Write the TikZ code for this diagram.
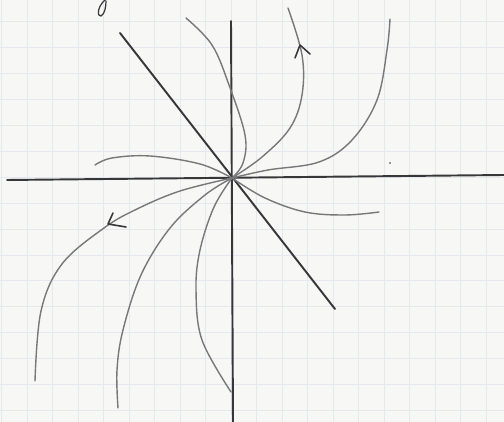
\documentclass[tikz,border=0pt]{standalone}
\usepackage{tikz}
\definecolor{paper}{RGB}{247,247,246}
\definecolor{gridc}{RGB}{229,233,237}
\definecolor{pen}{RGB}{55,55,58}
\definecolor{pencil}{RGB}{120,120,122}
\tikzset{
  axis/.style={pen,line width=1.1pt},
  orbit/.style={pencil,line width=0.8pt},
  barb/.style={pen,line width=0.9pt,line join=round}
}

\begin{document}
\begin{tikzpicture}[x=0.02cm,y=-0.02cm,line cap=round]
\fill[paper] (0,0) rectangle (504,422);
\useasboundingbox (0,0) rectangle (504,422);
% squared paper
\foreach \i in {0,...,19} \draw[gridc,line width=0.5pt] ({1.5+25.5*\i},0)--({1.5+25.5*\i},422);
\foreach \j in {0,...,16} \draw[gridc,line width=0.5pt] (0,{-4+25.9*\j})--(504,{-4+25.9*\j});
% axes and the straight line through the origin
\coordinate (O) at (232,178);
\draw[axis] (7,180)--(504,175);
\draw[axis] (231,21)--(233,422);
\draw[axis] (120,33)--(335,309);
% trajectories
\draw[orbit] plot[smooth,tension=0.6] coordinates {(186,18) (212,45) (229,85) (245,135) (243,163) (O)};
\draw[orbit] plot[smooth,tension=0.6] coordinates {(O) (262,157) (290,128) (302,95) (302,55) (288,8)};
\draw[orbit] plot[smooth,tension=0.6] coordinates {(O) (268,170) (319,162) (352,140) (377,100) (387,50) (390,19)};
\draw[orbit] plot[smooth,tension=0.6] coordinates {(95,165) (112,158) (150,156) (200,164) (O)};
\draw[orbit] plot[smooth,tension=0.6] coordinates {(O) (265,198) (305,212) (345,215) (379,212)};
\draw[orbit] plot[smooth,tension=0.6] coordinates {(O) (180,191) (137,209) (104,228) (62,264) (41,311) (35,381)};
\draw[orbit] plot[smooth,tension=0.6] coordinates {(O) (205,195) (170,228) (141,275) (123,330) (117,370) (118,408)};
\draw[orbit] plot[smooth,tension=0.6] coordinates {(O) (214,207) (200,250) (196,290) (202,340) (231,392)};
% hand drawn arrow heads
\draw[barb] (295,58)--(300,45)--(310,54);
\draw[barb] (113,213)--(108,224)--(126,227);
% stray marks
\draw[pen,line width=0.7pt] (105,0) .. controls (97,7) and (97,17) .. (101,16) .. controls (105,14) and (106,6) .. (106,1);
\fill[pen] (390,163) circle (0.8);
\end{tikzpicture}
\end{document}
